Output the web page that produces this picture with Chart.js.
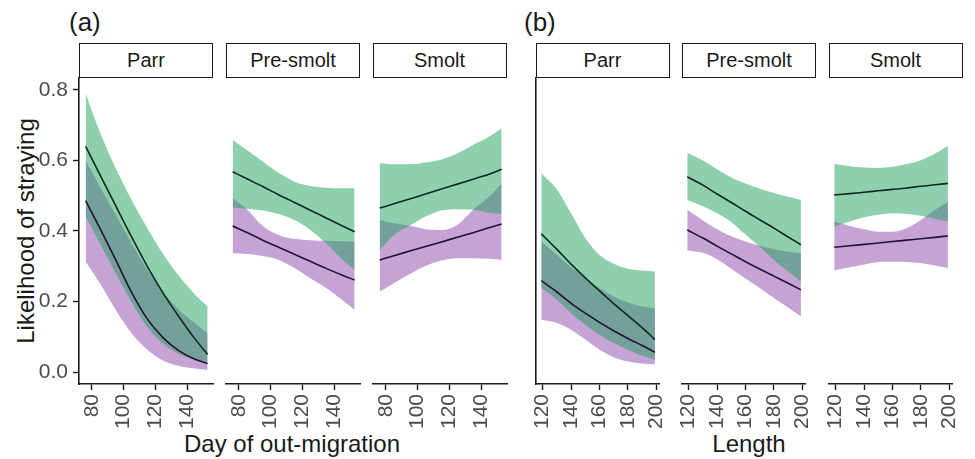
<!DOCTYPE html>
<html>
<head>
<meta charset="utf-8">
<script src="https://cdn.jsdelivr.net/npm/chart.js@4"></script>
<style>
  body { margin: 0; background: #fff; width: 975px; height: 459px; overflow: hidden; position: relative;
         font-family: "Liberation Sans", Arial, sans-serif; }
  canvas { position: absolute; }
  .strip { position: absolute; top: 43px; height: 35px; box-sizing: border-box; border: 1.6px solid #1a1a1a;
           background: #fff; text-align: center; line-height: 32px; font-size: 20px; color: #1a1a1a; }
  .tag { position: absolute; top: 7px; font-size: 26px; color: #1a1a1a; }
  .xtitle { position: absolute; top: 430px; width: 300px; text-align: center; font-size: 24px; color: #1a1a1a; }
  .ytitle { position: absolute; left: 26px; top: 231px; font-size: 24px; color: #1a1a1a; white-space: nowrap;
            transform: translate(-50%, -50%) rotate(-90deg); }
</style>
</head>
<body>
<div class="tag" style="left:69px">(a)</div>
<div class="tag" style="left:524px">(b)</div>
<div class="ytitle">Likelihood of straying</div>
<div class="xtitle" style="left:142px">Day of out-migration</div>
<div class="xtitle" style="left:599px">Length</div>
<script>
// x positions of the fitted values
const dayX = [76, 85, 95, 105, 115, 125, 135, 145, 153];
const lenX = [119, 130, 140, 150, 160, 170, 180, 190, 199];
const dayTicks = [80, 100, 120, 140];
const lenTicks = [120, 140, 160, 180, 200];
const yTicks = [0, 0.2, 0.4, 0.6, 0.8];
const stages = ["Parr", "Pre-smolt", "Smolt"];

// (a) day of out-migration
const aParrGreenFit = [0.640, 0.560, 0.471, 0.383, 0.299, 0.223, 0.156, 0.094, 0.050];
const aParrGreenHi  = [0.790, 0.680, 0.578, 0.488, 0.408, 0.334, 0.272, 0.220, 0.186];
const aParrGreenLo  = [0.441, 0.365, 0.280, 0.198, 0.128, 0.080, 0.051, 0.036, 0.028];
const aParrPurpFit  = [0.486, 0.408, 0.318, 0.226, 0.150, 0.097, 0.060, 0.036, 0.024];
const aParrPurpHi   = [0.600, 0.526, 0.446, 0.365, 0.290, 0.228, 0.176, 0.139, 0.110];
const aParrPurpLo   = [0.313, 0.252, 0.176, 0.110, 0.063, 0.032, 0.017, 0.010, 0.006];

const aPreGreenFit = [0.568, 0.548, 0.526, 0.503, 0.481, 0.459, 0.437, 0.415, 0.398];
const aPreGreenHi  = [0.658, 0.630, 0.597, 0.565, 0.540, 0.528, 0.523, 0.521, 0.521];
const aPreGreenLo  = [0.467, 0.463, 0.458, 0.448, 0.431, 0.403, 0.365, 0.320, 0.290];
const aPrePurpFit  = [0.414, 0.396, 0.374, 0.354, 0.334, 0.314, 0.294, 0.275, 0.261];
const aPrePurpHi   = [0.493, 0.462, 0.414, 0.389, 0.378, 0.374, 0.372, 0.371, 0.370];
const aPrePurpLo   = [0.337, 0.335, 0.329, 0.318, 0.295, 0.266, 0.238, 0.205, 0.176];

const aSmoGreenFit = [0.465, 0.477, 0.491, 0.505, 0.519, 0.533, 0.547, 0.561, 0.575];
const aSmoGreenHi  = [0.592, 0.589, 0.589, 0.594, 0.603, 0.620, 0.644, 0.667, 0.691];
const aSmoGreenLo  = [0.346, 0.389, 0.415, 0.441, 0.458, 0.462, 0.460, 0.452, 0.448];
const aSmoPurpFit  = [0.318, 0.330, 0.343, 0.356, 0.369, 0.382, 0.395, 0.409, 0.420];
const aSmoPurpHi   = [0.431, 0.422, 0.415, 0.405, 0.403, 0.417, 0.460, 0.497, 0.535];
const aSmoPurpLo   = [0.228, 0.252, 0.278, 0.301, 0.316, 0.323, 0.323, 0.321, 0.318];

// (b) length
const bParrGreenFit = [0.392, 0.348, 0.306, 0.267, 0.230, 0.194, 0.160, 0.126, 0.092];
const bParrGreenHi  = [0.564, 0.518, 0.450, 0.380, 0.332, 0.307, 0.293, 0.288, 0.285];
const bParrGreenLo  = [0.238, 0.205, 0.167, 0.134, 0.106, 0.082, 0.063, 0.046, 0.035];
const bParrPurpFit  = [0.259, 0.227, 0.195, 0.167, 0.141, 0.117, 0.095, 0.075, 0.056];
const bParrPurpHi   = [0.370, 0.332, 0.297, 0.266, 0.238, 0.214, 0.197, 0.186, 0.181];
const bParrPurpLo   = [0.148, 0.139, 0.120, 0.092, 0.063, 0.042, 0.030, 0.024, 0.021];

const bPreGreenFit = [0.554, 0.530, 0.505, 0.481, 0.456, 0.432, 0.408, 0.383, 0.361];
const bPreGreenHi  = [0.622, 0.600, 0.575, 0.552, 0.535, 0.520, 0.508, 0.497, 0.488];
const bPreGreenLo  = [0.488, 0.470, 0.450, 0.425, 0.390, 0.355, 0.318, 0.285, 0.257];
const bPrePurpFit  = [0.403, 0.380, 0.357, 0.335, 0.313, 0.292, 0.272, 0.252, 0.233];
const bPrePurpHi   = [0.460, 0.430, 0.405, 0.385, 0.370, 0.358, 0.348, 0.341, 0.337];
const bPrePurpLo   = [0.345, 0.338, 0.320, 0.293, 0.265, 0.238, 0.210, 0.183, 0.158];

const bSmoGreenFit = [0.502, 0.506, 0.510, 0.514, 0.518, 0.522, 0.527, 0.531, 0.535];
const bSmoGreenHi  = [0.590, 0.584, 0.580, 0.579, 0.582, 0.590, 0.601, 0.620, 0.641];
const bSmoGreenLo  = [0.412, 0.427, 0.439, 0.446, 0.450, 0.448, 0.443, 0.434, 0.427];
const bSmoPurpFit  = [0.354, 0.358, 0.362, 0.366, 0.370, 0.374, 0.378, 0.382, 0.386];
const bSmoPurpHi   = [0.427, 0.414, 0.405, 0.398, 0.398, 0.408, 0.431, 0.460, 0.483];
const bSmoPurpLo   = [0.288, 0.297, 0.305, 0.312, 0.313, 0.312, 0.309, 0.302, 0.295];

const GREEN_FILL = "rgba(30,160,92,0.5)";
const PURPLE_FILL = "rgba(140,72,172,0.5)";
const GREEN_LINE = "#10281c";
const PURPLE_LINE = "#241033";
const INK = "#1a1a1a";
const FONT = "'Liberation Sans', Arial, sans-serif";

const PLOT_TOP = 78, PLOT_H = 306, PANEL_W = 134;
const Y_W = 60, PAD_TOP = 20, PAD_R = 16, X_H = 60;

function addPanel(left, stage, xVals, xTicks, xMin, xMax, s, yMode) {
  const strip = document.createElement("div");
  strip.className = "strip";
  strip.style.left = left + "px";
  strip.style.width = PANEL_W + "px";
  strip.textContent = stage;
  document.body.appendChild(strip);

  const cv = document.createElement("canvas");
  cv.width = Y_W + PANEL_W + PAD_R;
  cv.height = PAD_TOP + PLOT_H + X_H;
  cv.style.left = (left - Y_W) + "px";
  cv.style.top = (PLOT_TOP - PAD_TOP) + "px";
  document.body.appendChild(cv);

  const pts = arr => xVals.map((x, i) => ({ x: x, y: arr[i] }));
  const edge = (arr, fill, color) => ({
    data: pts(arr), borderWidth: 0, borderColor: "transparent", pointRadius: 0,
    fill: fill, backgroundColor: color
  });
  const labels = yMode === "labels";

  new Chart(cv, {
    type: "line",
    data: {
      datasets: [
        { data: pts(s.gFit), borderColor: GREEN_LINE, borderWidth: 1.6, pointRadius: 0, fill: false },
        { data: pts(s.pFit), borderColor: PURPLE_LINE, borderWidth: 1.6, pointRadius: 0, fill: false },
        edge(s.gHi, false, GREEN_FILL),
        edge(s.gLo, "-1", GREEN_FILL),
        edge(s.pHi, false, PURPLE_FILL),
        edge(s.pLo, "-1", PURPLE_FILL),
      ],
    },
    options: {
      responsive: false,
      animation: false,
      events: [],
      layout: { padding: { top: PAD_TOP, right: PAD_R, left: 0, bottom: 0 } },
      elements: { line: { cubicInterpolationMode: "monotone" } },
      plugins: { legend: { display: false }, tooltip: { enabled: false } },
      scales: {
        x: {
          type: "linear", min: xMin, max: xMax,
          afterBuildTicks: sc => { sc.ticks = xTicks.map(v => ({ value: v })); },
          afterFit: sc => { sc.height = X_H; },
          ticks: { autoSkip: false, minRotation: 90, maxRotation: 90, padding: 4, color: "#4d4d4d",
                   font: { family: FONT, size: 21 }, callback: v => String(v) },
          grid: { display: true, drawOnChartArea: false, drawTicks: true, tickLength: 6,
                  tickColor: INK, tickWidth: 1.4 },
          border: { display: true, color: INK, width: 1.6 },
        },
        y: {
          type: "linear", min: -0.034, max: 0.834,
          afterBuildTicks: sc => { sc.ticks = yTicks.map(v => ({ value: v })); },
          afterFit: sc => { sc.width = Y_W; },
          ticks: { display: labels, padding: 5, color: "#4d4d4d",
                   font: { family: FONT, size: 21 }, callback: v => v.toFixed(1) },
          grid: { display: labels, drawOnChartArea: false, drawTicks: true, tickLength: 6,
                  tickColor: INK, tickWidth: 1.4 },
          border: { display: yMode !== "none", color: INK, width: 1.6 },
        },
      },
    },
  });
}

const aLefts = [79, 226, 372.5];
const bLefts = [535.5, 682, 828.5];

const aSeries = [
  { gFit: aParrGreenFit, gHi: aParrGreenHi, gLo: aParrGreenLo, pFit: aParrPurpFit, pHi: aParrPurpHi, pLo: aParrPurpLo },
  { gFit: aPreGreenFit, gHi: aPreGreenHi, gLo: aPreGreenLo, pFit: aPrePurpFit, pHi: aPrePurpHi, pLo: aPrePurpLo },
  { gFit: aSmoGreenFit, gHi: aSmoGreenHi, gLo: aSmoGreenLo, pFit: aSmoPurpFit, pHi: aSmoPurpHi, pLo: aSmoPurpLo },
];
const bSeries = [
  { gFit: bParrGreenFit, gHi: bParrGreenHi, gLo: bParrGreenLo, pFit: bParrPurpFit, pHi: bParrPurpHi, pLo: bParrPurpLo },
  { gFit: bPreGreenFit, gHi: bPreGreenHi, gLo: bPreGreenLo, pFit: bPrePurpFit, pHi: bPrePurpHi, pLo: bPrePurpLo },
  { gFit: bSmoGreenFit, gHi: bSmoGreenHi, gLo: bSmoGreenLo, pFit: bSmoPurpFit, pHi: bSmoPurpHi, pLo: bSmoPurpLo },
];

stages.forEach((st, i) => {
  addPanel(aLefts[i], st, dayX, dayTicks, 71.8, 156.4, aSeries[i], i === 0 ? "labels" : "none");
});
stages.forEach((st, i) => {
  addPanel(bLefts[i], st, lenX, lenTicks, 115.3, 202.5, bSeries[i], i === 0 ? "line" : "none");
});
</script>
</body>
</html>
